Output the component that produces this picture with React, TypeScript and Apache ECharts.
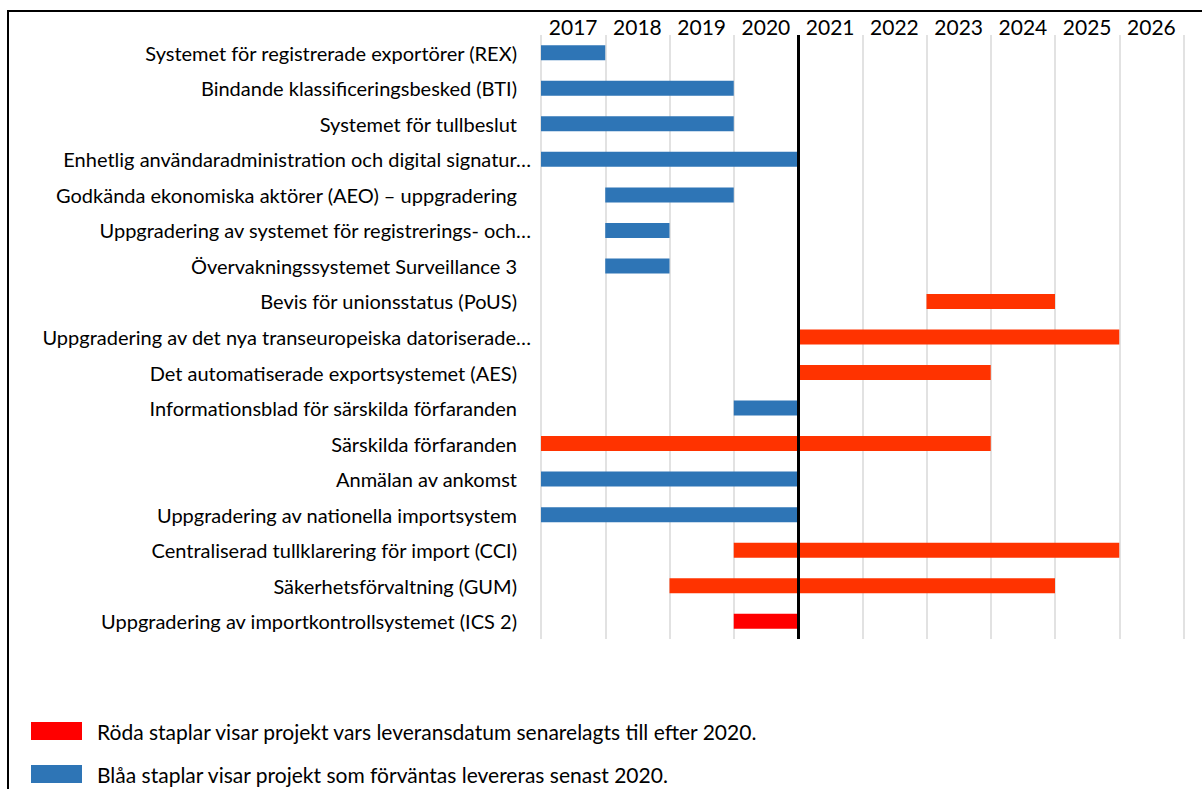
import React, { useEffect, useRef } from "react";
import * as echarts from "echarts";

const projects = [
  "Systemet för registrerade exportörer (REX)",
  "Bindande klassificeringsbesked (BTI)",
  "Systemet för tullbeslut",
  "Enhetlig användaradministration och digital signatur…",
  "Godkända ekonomiska aktörer (AEO) – uppgradering",
  "Uppgradering av systemet för registrerings- och…",
  "Övervakningssystemet Surveillance 3",
  "Bevis för unionsstatus (PoUS)",
  "Uppgradering av det nya transeuropeiska datoriserade…",
  "Det automatiserade exportsystemet (AES)",
  "Informationsblad för särskilda förfaranden",
  "Särskilda förfaranden",
  "Anmälan av ankomst",
  "Uppgradering av nationella importsystem",
  "Centraliserad tullklarering för import (CCI)",
  "Säkerhetsförvaltning (GUM)",
  "Uppgradering av importkontrollsystemet (ICS 2)",
];
const startYear = [2017, 2017, 2017, 2017, 2018, 2018, 2018, 2023, 2021, 2021, 2020, 2017, 2017, 2017, 2020, 2019, 2020];
const endYear = [2018, 2020, 2020, 2021, 2020, 2019, 2019, 2025, 2026, 2024, 2021, 2024, 2021, 2021, 2026, 2025, 2021];
const status = ["blue", "blue", "blue", "blue", "blue", "blue", "blue", "red", "red", "red", "blue", "red", "blue", "blue", "red", "red", "ics"];
const years = ["2017", "2018", "2019", "2020", "2021", "2022", "2023", "2024", "2025", "2026"];
const legendTexts = [
  "Röda staplar visar projekt vars leveransdatum senarelagts till efter 2020.",
  "Blåa staplar visar projekt som förväntas levereras senast 2020.",
];

const colorOf: Record<string, string> = { blue: "#2E75B6", red: "#FF3300", ics: "#FF0000" };
const FONT = "Lato, 'Open Sans', sans-serif";

export default function App() {
  const ref = useRef<HTMLDivElement>(null);
  useEffect(() => {
    document.body.style.margin = "0";
    document.body.style.overflow = "hidden";
    const chart = echarts.init(ref.current!, undefined, { renderer: "svg" });
    const truncated = (s: string) => s.endsWith("…");
    chart.setOption({
      animation: false,
      backgroundColor: "#fff",
      grid: { left: 541, right: 18.5, top: 35, bottom: 150, containLabel: false },
      xAxis: [
        {
          type: "value",
          min: 2017,
          max: 2027,
          interval: 1,
          position: "top",
          axisLabel: { show: false },
          axisLine: { show: false },
          axisTick: { show: false },
          splitLine: { show: true, lineStyle: { color: "#d9d9d9", width: 1.5 } },
        },
        {
          type: "category",
          data: years,
          position: "top",
          boundaryGap: true,
          axisLine: { show: false },
          axisTick: { show: false },
          splitLine: { show: false },
          axisLabel: { fontSize: 21, color: "#000", fontFamily: FONT, margin: -2 },
        },
      ],
      yAxis: {
        type: "category",
        inverse: true,
        data: projects,
        axisLine: { show: false },
        axisTick: { show: false },
        splitLine: { show: false },
        axisLabel: {
          margin: 10,
          formatter: (v: string) => (truncated(v) ? `{e|${v}}` : `{n|${v}}`),
          rich: {
            n: { fontSize: 20, color: "#000", fontFamily: FONT, padding: [0, 14, 0, 0] },
            e: { fontSize: 20, color: "#000", fontFamily: FONT },
          },
        },
      },
      series: [
        {
          type: "bar",
          stack: "g",
          xAxisIndex: 0,
          barWidth: 15,
          itemStyle: { color: "transparent" },
          data: startYear,
          silent: true,
        },
        {
          type: "bar",
          stack: "g",
          xAxisIndex: 0,
          barWidth: 15,
          data: endYear.map((e, i) => ({
            value: e - startYear[i],
            itemStyle: { color: colorOf[status[i]] },
          })),
          markLine: {
            silent: true,
            symbol: "none",
            label: { show: false },
            lineStyle: { color: "#000", width: 3, type: "solid" },
            data: [{ xAxis: 2021 }],
          },
        },
      ],
      graphic: [
        {
          type: "rect",
          shape: { x: 8, y: 11, width: 1300, height: 900 },
          style: { fill: "none", stroke: "#000", lineWidth: 2 },
          silent: true,
        },
        {
          type: "rect",
          shape: { x: 31, y: 722, width: 51, height: 18 },
          style: { fill: colorOf.ics },
        },
        {
          type: "text",
          x: 97,
          y: 731,
          style: { text: legendTexts[0], fontSize: 21, fill: "#000", fontFamily: FONT, verticalAlign: "middle" },
        },
        {
          type: "rect",
          shape: { x: 31, y: 765, width: 51, height: 18 },
          style: { fill: colorOf.blue },
        },
        {
          type: "text",
          x: 97,
          y: 774,
          style: { text: legendTexts[1], fontSize: 21, fill: "#000", fontFamily: FONT, verticalAlign: "middle" },
        },
      ],
    });
    return () => chart.dispose();
  }, []);
  return <div ref={ref} style={{ width: 1202, height: 789 }} />;
}
